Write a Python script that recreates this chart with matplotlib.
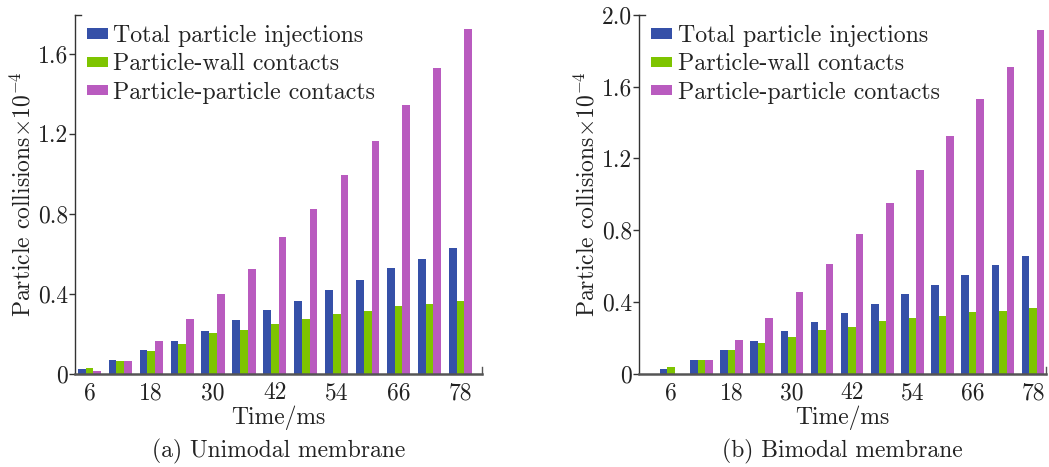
import numpy as np
import matplotlib
matplotlib.use("Agg")
import matplotlib.pyplot as plt

plt.rcParams['font.family'] = ['cmr10', 'DejaVu Serif']
plt.rcParams['mathtext.fontset'] = 'cm'
plt.rcParams['axes.unicode_minus'] = False

times = [6, 12, 18, 24, 30, 36, 42, 48, 54, 60, 66, 72, 78]
xtick_labels = ['6', '18', '30', '42', '54', '66', '78']
series_names = ['Total particle injections', 'Particle-wall contacts', 'Particle-particle contacts']
colors = ['#3550a8', '#7ec400', '#b95bbf']

uni_injections = [0.024, 0.068, 0.118, 0.163, 0.213, 0.268, 0.318, 0.363, 0.418, 0.468, 0.528, 0.573, 0.628]
uni_wall = [0.028, 0.063, 0.113, 0.148, 0.203, 0.218, 0.248, 0.273, 0.298, 0.313, 0.338, 0.348, 0.363]
uni_pp = [0.013, 0.063, 0.163, 0.273, 0.398, 0.523, 0.683, 0.823, 0.993, 1.163, 1.343, 1.528, 1.723]

bi_injections = [0.026, 0.076, 0.132, 0.182, 0.238, 0.288, 0.338, 0.389, 0.444, 0.495, 0.551, 0.607, 0.656]
bi_wall = [0.037, 0.076, 0.132, 0.171, 0.205, 0.244, 0.260, 0.294, 0.311, 0.322, 0.344, 0.350, 0.366]
bi_pp = [0.0, 0.076, 0.188, 0.311, 0.456, 0.612, 0.779, 0.952, 1.136, 1.325, 1.532, 1.710, 1.916]

uni_yticks = [0, 0.4, 0.8, 1.2, 1.6]
uni_yticklabels = ['0', '0.4', '0.8', '1.2', '1.6']
bi_yticks = [0, 0.4, 0.8, 1.2, 1.6, 2.0]
bi_yticklabels = ['0', '0.4', '0.8', '1.2', '1.6', '2.0']

W, H = 1049, 467
fig = plt.figure(figsize=(W / 100, H / 100), dpi=100)

FS = 17
LFS = 17.2
bw = 0.25


def make_panel(rect, data, yticks, yticklabels, ylim, xlim, caption):
    ax = fig.add_axes(rect)
    x = np.arange(len(times))
    for i, (vals, c, name) in enumerate(zip(data, colors, series_names)):
        ax.bar(x + (i - 1) * bw, vals, width=bw, color=c, label=name, zorder=2)
    ax.set_xlim(*xlim)
    ax.set_ylim(*ylim)
    ax.set_xticks(x[::2])
    ax.set_xticklabels(xtick_labels)
    ax.set_yticks(yticks)
    ax.set_yticklabels(yticklabels)
    for s in ['top', 'right']:
        ax.spines[s].set_visible(False)
    ax.spines['left'].set_color('#333333')
    ax.spines['left'].set_linewidth(1.0)
    ax.spines['bottom'].set_color('#555555')
    ax.spines['bottom'].set_linewidth(1.8)
    ax.spines['bottom'].set_zorder(3)
    ax.tick_params(axis='x', length=0, pad=6, labelsize=FS, colors='#222222')
    ax.tick_params(axis='y', direction='out', length=4, width=1.0, pad=1,
                   labelsize=FS, colors='#333333', labelcolor='#222222')
    # end marks of the axes
    ax.plot([0, 0.015], [1, 1], transform=ax.transAxes, color='#333333', lw=1.0, clip_on=False)
    ax.plot([1, 1], [0, 0.02], transform=ax.transAxes, color='#555555', lw=1.0, clip_on=False)
    ax.set_xlabel('Time/ms', fontsize=FS, labelpad=1, color='#222222')
    ax.set_ylabel(r'Particle collisions$\times10^{-4}$', fontsize=FS, labelpad=2, color='#222222')
    leg = ax.legend(loc='upper left', bbox_to_anchor=(0.005, 0.999), frameon=False,
                    fontsize=LFS, handlelength=0.9, handleheight=0.28,
                    handletextpad=0.22, labelspacing=0.26, borderaxespad=0.0)
    for t in leg.get_texts():
        t.set_color('#222222')
    ax.text(0.5, -0.218, caption, transform=ax.transAxes, ha='center', va='center',
            fontsize=FS, color='#222222')
    return ax


ax_h = 358.7 / H
ax_b = (H - 373.7) / H
ax_w = 406.7 / W

make_panel([75 / W, ax_b, ax_w, ax_h], [uni_injections, uni_wall, uni_pp],
           uni_yticks, uni_yticklabels, (0, 1.793), (-0.467, 12.69),
           '(a) Unimodal membrane')
make_panel([639.3 / W, ax_b, ax_w, ax_h], [bi_injections, bi_wall, bi_pp],
           bi_yticks, bi_yticklabels, (0, 2.0), (-1.058, 12.43),
           '(b) Bimodal membrane')

fig.savefig('out.png', dpi=100)
